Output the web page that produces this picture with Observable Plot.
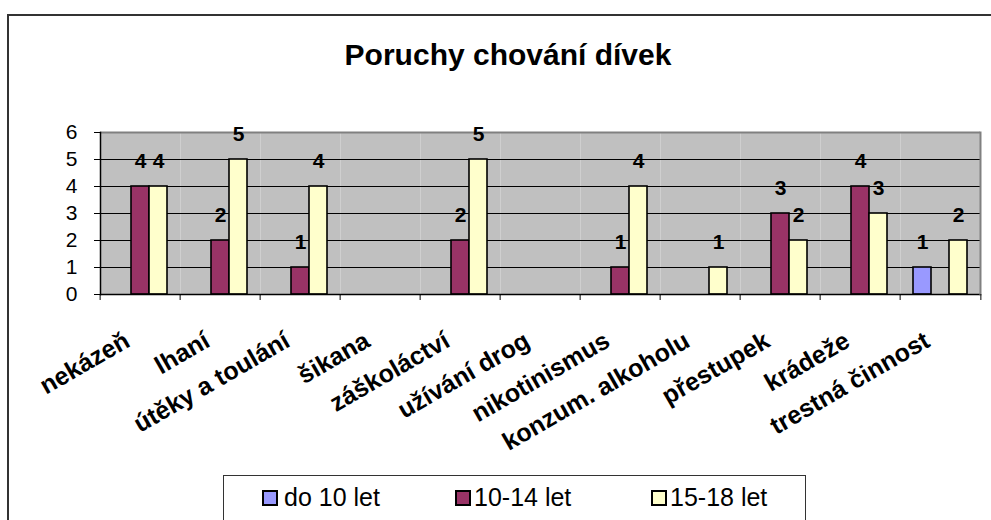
<!DOCTYPE html>
<html>
<head>
<meta charset="utf-8">
<script src="https://cdn.jsdelivr.net/npm/d3@7"></script>
<script src="https://cdn.jsdelivr.net/npm/@observablehq/plot@0.6"></script>
<style>
  html, body { margin: 0; padding: 0; background: #fff; }
  body { width: 991px; height: 520px; position: relative; overflow: hidden; font-family: "Liberation Sans", Arial, sans-serif; }
  #outer { position: absolute; left: 7px; top: 14px; width: 1000px; height: 540px; border: 2px solid #333; box-sizing: border-box; }
  #title { position: absolute; left: 0; width: 1016px; top: 40px; text-align: center; font-size: 30px; font-weight: bold; line-height: 1; color: #000; }
  #chart { position: absolute; left: 0; top: 0; }
  #legend { position: absolute; left: 223px; top: 475px; width: 583px; height: 46px; border: 1px solid #333; box-sizing: border-box; background: #fff; }
  .sw { position: absolute; top: 14px; width: 16px; height: 16px; border: 2px solid #000; box-sizing: border-box; }
  .lt { position: absolute; top: 9px; font-size: 25px; line-height: 1; color: #000; white-space: nowrap; }
</style>
</head>
<body>
<div id="outer"></div>
<div id="title">Poruchy chování dívek</div>
<div id="chart"></div>
<div id="legend"></div>
<script>
const categories = ["nekázeň", "lhaní", "útěky a toulání", "šikana", "záškoláctví", "užívání drog", "nikotinismus", "konzum. alkoholu", "přestupek", "krádeže", "trestná činnost"];
const series = ["do 10 let", "10-14 let", "15-18 let"];
const valuesDo10 = [0, 0, 0, 0, 0, 0, 0, 0, 0, 0, 1];
const values1014 = [4, 2, 1, 0, 2, 0, 1, 0, 3, 4, 0];
const values1518 = [4, 5, 4, 0, 5, 0, 4, 1, 2, 3, 2];
const colors = ["#9999ff", "#993366", "#ffffcc"];
const yTicks = [0, 1, 2, 3, 4, 5, 6];

const rows = [];
[valuesDo10, values1014, values1518].forEach((vals, si) =>
  vals.forEach((v, ci) => rows.push({category: categories[ci], series: series[si], value: v}))
);
const nonzero = rows.filter(d => d.value > 0);
const halfBand = (991 - 96 - 7) / categories.length / 2;

const chart = Plot.plot({
  width: 991,
  height: 470,
  marginTop: 132,
  marginBottom: 176,
  marginLeft: 96,
  marginRight: 7,
  style: {fontFamily: "Liberation Sans, Arial, sans-serif", color: "#000", background: "transparent", overflow: "visible"},
  fx: {domain: categories, padding: 0, axis: null, label: null},
  x: {domain: series, paddingInner: 0, paddingOuter: 0.7, axis: null, label: null},
  y: {domain: [0, 6], axis: null, label: null},
  color: {domain: series, range: colors},
  marks: [
    Plot.frame({fill: "#c0c0c0", stroke: null}),
    Plot.ruleY(yTicks.filter(t => t > 0 && t < 6), {stroke: "#000", strokeWidth: 1}),
    Plot.ruleY([6], {stroke: "#808080", strokeWidth: 2}),
    Plot.barY(nonzero, {fx: "category", x: "series", y: "value", fill: "series", stroke: "#000", strokeWidth: 1.6}),
    Plot.text(nonzero, {fx: "category", x: "series", y: "value", text: d => String(d.value), dy: -25, fontWeight: "bold", fontSize: 21, fill: "#000"}),
    Plot.ruleY([0], {stroke: "#000", strokeWidth: 1.5}),
    Plot.frame({facet: "super", anchor: "right", stroke: "#808080", strokeWidth: 2}),
    Plot.frame({facet: "super", anchor: "left", stroke: "#000", strokeWidth: 1.5}),
    Plot.axisY({ticks: yTicks, tickSize: 6, tickPadding: 17, fontSize: 21, label: null, tickFormat: d => String(d)}),
    Plot.axisFx({anchor: "bottom", tickSize: 6, label: null, tickFormat: () => "", dx: -halfBand}),
    Plot.axisFx({anchor: "bottom", ticks: [categories[categories.length - 1]], label: null, tickSize: 6, tickFormat: () => "", dx: halfBand}),
    Plot.text(categories, {fx: d => d, frameAnchor: "bottom", text: d => d, rotate: -30, textAnchor: "end", lineAnchor: "bottom", dx: -9, dy: 51, fontWeight: "bold", fontSize: 25, fill: "#000"})
  ]
});
document.getElementById("chart").appendChild(chart);

const legend = document.getElementById("legend");
const swLeft = [38, 231, 427];
const txLeft = [60, 250, 446];
series.forEach((s, i) => {
  const sw = document.createElement("div");
  sw.className = "sw";
  sw.style.left = swLeft[i] + "px";
  sw.style.background = colors[i];
  legend.appendChild(sw);
  const t = document.createElement("div");
  t.className = "lt";
  t.style.left = txLeft[i] + "px";
  t.textContent = s;
  legend.appendChild(t);
});
</script>
</body>
</html>
